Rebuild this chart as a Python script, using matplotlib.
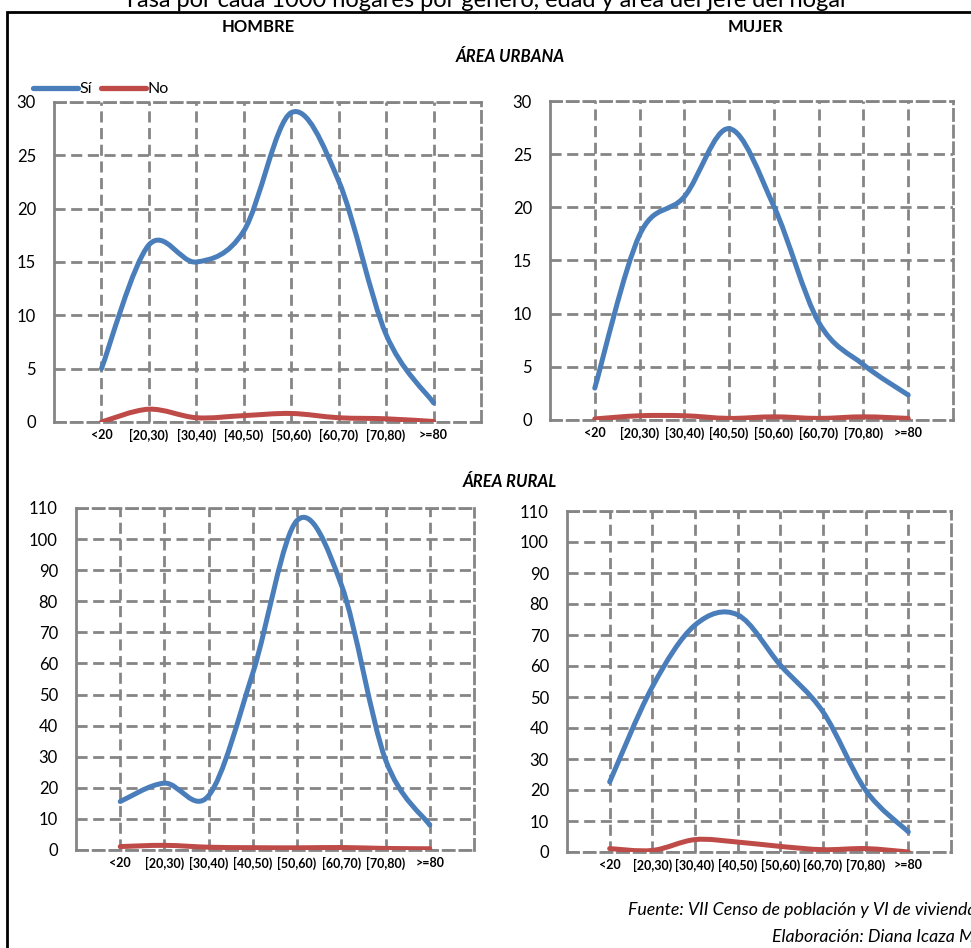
import numpy as np
import matplotlib
matplotlib.use("Agg")
import matplotlib.pyplot as plt
from matplotlib.path import Path
from matplotlib.patches import PathPatch, Rectangle
from matplotlib.lines import Line2D

plt.rcParams['font.family'] = ['Lato', 'DejaVu Sans']

categories = ['<20', '[20,30)', '[30,40)', '[40,50)', '[50,60)', '[60,70)', '[70,80)', '>=80']

urbano_hombre_si = [5.0, 16.6, 15.0, 17.9, 29.0, 22.6, 8.2, 1.8]
urbano_hombre_no = [0.0, 1.2, 0.4, 0.6, 0.8, 0.4, 0.3, 0.05]
urbano_mujer_si = [3.0, 17.4, 21.0, 27.4, 20.1, 9.2, 5.2, 2.35]
urbano_mujer_no = [0.1, 0.4, 0.4, 0.15, 0.3, 0.15, 0.3, 0.15]
rural_hombre_si = [15.6, 21.5, 17.5, 57.0, 106.0, 85.3, 29.0, 8.0]
rural_hombre_no = [1.1, 1.5, 0.9, 0.75, 0.7, 0.8, 0.5, 0.4]
rural_mujer_si = [22.6, 53.3, 73.2, 76.5, 60.3, 45.2, 19.9, 6.5]
rural_mujer_no = [1.1, 0.5, 4.0, 3.2, 1.8, 0.75, 1.1, 0.0]

BLUE = '#4A7EBB'
RED = '#BE4B48'
GRID = '#858585'
DASH = (0, (4, 2))

W, H = 971, 948


def smooth_path(xs, ys):
    # Excel-like smoothed line (Catmull-Rom as cubic Bezier)
    pts = np.column_stack([xs, ys]).astype(float)
    n = len(pts)
    verts = [pts[0]]
    codes = [Path.MOVETO]
    for i in range(n - 1):
        p0 = pts[max(i - 1, 0)]
        p1 = pts[i]
        p2 = pts[i + 1]
        p3 = pts[min(i + 2, n - 1)]
        verts += [p1 + (p2 - p0) / 6, p2 - (p3 - p1) / 6, p2]
        codes += [Path.CURVE4] * 3
    return Path(verts, codes)


def panel(box, si, no, ymax, ystep):
    left, right, top, bottom = box
    ax = fig.add_axes([left / W, 1 - bottom / H, (right - left) / W, (bottom - top) / H])
    x = np.arange(1, len(categories) + 1)
    ax.set_xlim(0, len(categories) + 1)
    ax.set_ylim(0, ymax)
    ax.set_xticks(x)
    ax.set_xticklabels(categories, fontweight='bold')
    ax.set_yticks(np.arange(0, ymax + 1, ystep))
    ax.tick_params(axis='both', length=0)
    ax.tick_params(axis='y', pad=13, labelsize=12)
    ax.tick_params(axis='x', pad=5, labelsize=9)
    ax.grid(True, color=GRID, linestyle=DASH, linewidth=2)
    ax.set_axisbelow(True)
    for side in ['top', 'right', 'bottom']:
        ax.spines[side].set_color(GRID)
        ax.spines[side].set_linewidth(2)
        ax.spines[side].set_linestyle(DASH)
    ax.spines['left'].set_color(GRID)
    ax.spines['left'].set_linewidth(2)
    for vals, col in [(si, BLUE), (no, RED)]:
        patch = PathPatch(smooth_path(x, vals), fill=False, edgecolor=col,
                          linewidth=3.6, capstyle='round', joinstyle='round', zorder=3)
        ax.add_patch(patch)
    return ax


fig = plt.figure(figsize=(W / 100, H / 100), dpi=100)

ax1 = panel((54, 481, 102, 422), urbano_hombre_si, urbano_hombre_no, 30, 5)
ax2 = panel((550, 953, 101, 420), urbano_mujer_si, urbano_mujer_no, 30, 5)
ax3 = panel((76, 474, 508, 850), rural_hombre_si, rural_hombre_no, 110, 10)
ax4 = panel((567, 951, 511, 852), rural_mujer_si, rural_mujer_no, 110, 10)

handles = [Line2D([], [], color=BLUE, lw=3.8, solid_capstyle='round'),
           Line2D([], [], color=RED, lw=3.8, solid_capstyle='round')]
ax1.legend(handles, ['Sí', 'No'], loc='upper left', bbox_to_anchor=(33 / W, 1 - 82 / H),
           bbox_transform=fig.transFigure, ncol=2, frameon=False, fontsize=11.5,
           handlelength=2.8, handletextpad=0.1, columnspacing=0.6, borderpad=0,
           borderaxespad=0)

# outer frame (runs past the right and bottom edge)
fig.patches.append(Rectangle((7 / W, -0.1), 1.1, 1.1 - 12 / H, transform=fig.transFigure,
                             fill=False, edgecolor='black', linewidth=2))

fig.text(0.5, 1 - 7 / H, 'Tasa por cada 1000 hogares por género, edad y área del jefe del hogar',
         ha='center', va='baseline', fontsize=17)
fig.text(258 / W, 1 - 27 / H, 'HOMBRE', ha='center', va='center', fontsize=12, fontweight='bold')
fig.text(755 / W, 1 - 27 / H, 'MUJER', ha='center', va='center', fontsize=12, fontweight='bold')
fig.text(510 / W, 1 - 57 / H, 'ÁREA URBANA', ha='center', va='center', fontsize=12,
         fontweight='bold', fontstyle='italic')
fig.text(510 / W, 1 - 482 / H, 'ÁREA RURAL', ha='center', va='center', fontsize=12,
         fontweight='bold', fontstyle='italic')
fig.text(628 / W, 1 - 910 / H, 'Fuente: VII Censo de población y VI de vivienda',
         ha='left', va='center', fontsize=12.8, fontstyle='italic')
fig.text(772 / W, 1 - 937 / H, 'Elaboración: Diana Icaza M.',
         ha='left', va='center', fontsize=12.8, fontstyle='italic')

fig.savefig('out.png', dpi=100)
